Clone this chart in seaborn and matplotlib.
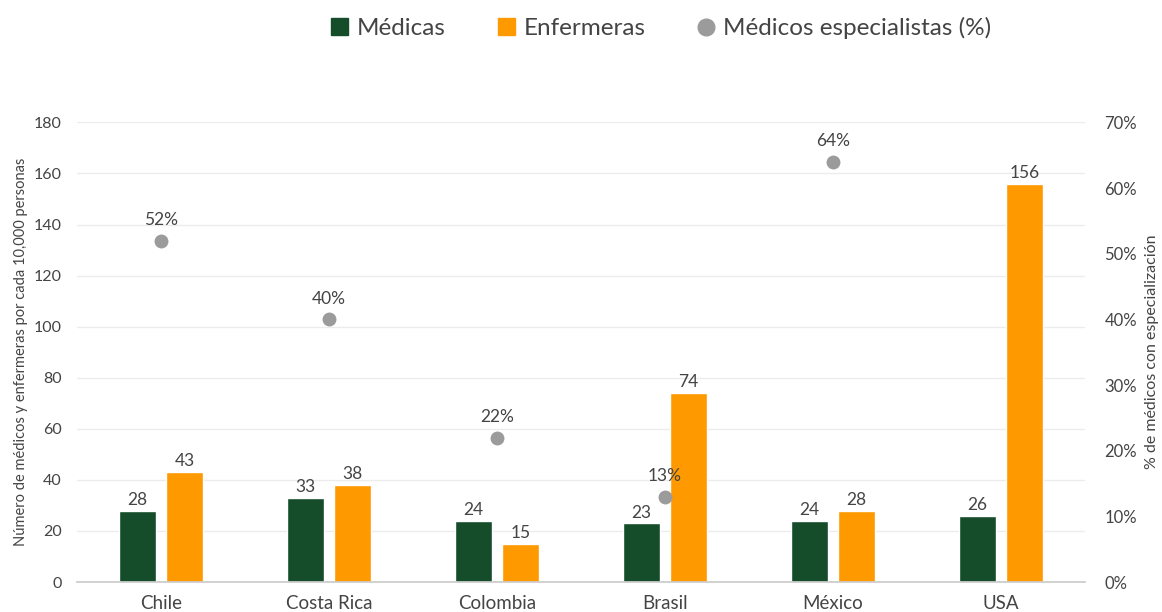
import numpy as np
import pandas as pd
import matplotlib
matplotlib.use("Agg")
import matplotlib.pyplot as plt
import seaborn as sns
from matplotlib.lines import Line2D
from matplotlib.patches import Patch
from matplotlib.ticker import FuncFormatter, MultipleLocator

# ---- data ----
countries = ["Chile", "Costa Rica", "Colombia", "Brasil", "México", "USA"]
medicas = [28, 33, 24, 23, 24, 26]
enfermeras = [43, 38, 15, 74, 28, 156]
especialistas = [52, 40, 22, 13, 64, np.nan]  # %
series_names = ["Médicas", "Enfermeras"]
dots_name = "Médicos especialistas (%)"

GREEN = "#154d2b"
ORANGE = "#ff9900"
GRAY = "#9b9b9b"
TEXT = "#444444"

sns.set_theme(style="white")
plt.rcParams["font.family"] = ["Lato", "DejaVu Sans"]

df = pd.DataFrame({
    "País": countries * 2,
    "Serie": [series_names[0]] * len(countries) + [series_names[1]] * len(countries),
    "Valor": medicas + enfermeras,
})
df_pct = pd.DataFrame({"País": countries, "Pct": especialistas})

fig = plt.figure(figsize=(11.62, 6.12), dpi=100)
ax = fig.add_axes([0.0663, 0.049, 0.8674, 0.751])

sns.barplot(data=df, x="País", y="Valor", hue="Serie", order=countries,
            hue_order=series_names, palette=[GREEN, ORANGE], width=0.56,
            gap=0.2, ax=ax, legend=False, saturation=1, errorbar=None)

ax.set_ylim(0, 180)
ax.yaxis.set_major_locator(MultipleLocator(20))
ax.grid(axis="y", color="#ececec", linewidth=1)
ax.set_axisbelow(True)
for s in ["top", "right", "left"]:
    ax.spines[s].set_visible(False)
ax.spines["bottom"].set_color("#cccccc")
ax.tick_params(axis="y", length=0, labelsize=11.5, labelcolor=TEXT, pad=11)
ax.tick_params(axis="x", length=0, labelsize=13.5, labelcolor=TEXT, pad=9)
ax.set_xlabel("")
ax.set_ylabel("Número de médicos y enfermeras por cada 10,000 personas",
              fontsize=10.5, color=TEXT, labelpad=4)

for cont in ax.containers:
    ax.bar_label(cont, fmt="%.0f", padding=2, fontsize=12.5, color=TEXT)

ax2 = ax.twinx()
sns.stripplot(data=df_pct, x="País", y="Pct", order=countries, jitter=False,
              color=GRAY, size=10, ax=ax2, zorder=5)
ax2.set_ylim(0, 70)
ax2.set_xlim(-0.5, len(countries) - 0.5)
ax2.yaxis.set_major_locator(MultipleLocator(10))
ax2.yaxis.set_major_formatter(FuncFormatter(lambda v, p: f"{v:.0f}%"))
for s in ax2.spines.values():
    s.set_visible(False)
ax2.tick_params(axis="y", length=0, labelsize=12, labelcolor=TEXT, pad=14)
ax2.set_ylabel("% de médicos con especialización", fontsize=11.5, color=TEXT,
               labelpad=6)
ax2.set_xlabel("")
ax2.grid(False)

for i, v in enumerate(especialistas):
    if not np.isnan(v):
        ax2.annotate(f"{v:.0f}%", (i, v), xytext=(0, 9),
                     textcoords="offset points", ha="center", va="bottom",
                     fontsize=12.5, color=TEXT)

handles = [Patch(color=GREEN, label=series_names[0]),
           Patch(color=ORANGE, label=series_names[1]),
           Line2D([], [], marker="o", linestyle="none", markersize=12,
                  markerfacecolor=GRAY, markeredgecolor=GRAY, label=dots_name)]
fig.legend(handles=handles, loc="center", bbox_to_anchor=(0.569, 0.954),
           ncol=3, frameon=False, fontsize=17.5, handlelength=0.7,
           handleheight=0.7, columnspacing=2.15, handletextpad=0.35,
           labelcolor=TEXT)

fig.savefig("out.png", dpi=100)
